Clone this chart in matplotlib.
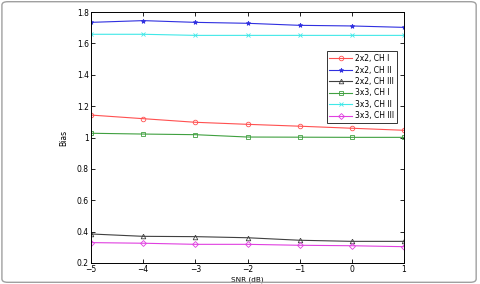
import matplotlib
matplotlib.use('Agg')
import matplotlib.pyplot as plt
from matplotlib.patches import FancyBboxPatch
from matplotlib.ticker import FuncFormatter

snr = [-5, -4, -3, -2, -1, 0, 1]

bias_2x2_ch1 = [1.143, 1.120, 1.097, 1.084, 1.072, 1.059, 1.046]
bias_2x2_ch2 = [1.734, 1.745, 1.734, 1.728, 1.715, 1.711, 1.702]
bias_2x2_ch3 = [0.385, 0.370, 0.368, 0.361, 0.345, 0.338, 0.338]
bias_3x3_ch1 = [1.027, 1.022, 1.018, 1.003, 1.002, 1.001, 1.001]
bias_3x3_ch2 = [1.658, 1.658, 1.651, 1.651, 1.651, 1.651, 1.651]
bias_3x3_ch3 = [0.330, 0.326, 0.319, 0.319, 0.313, 0.310, 0.304]

labels = ['2x2, CH I', '2x2, CH II', '2x2, CH III',
          '3x3, CH I', '3x3, CH II', '3x3, CH III']

fig = plt.figure(figsize=(4.8, 2.84), dpi=100)
ax = fig.add_axes([91 / 480, 1 - 263 / 284, (404 - 91) / 480, (263 - 12) / 284])

# rounded grey frame around the whole picture
fig.patches.append(FancyBboxPatch((0.004, 0.006), 0.988, 0.988,
                                  boxstyle='round,pad=0,rounding_size=0.012',
                                  transform=fig.transFigure, fill=False,
                                  edgecolor='#a0a0a0', linewidth=1.0))

kw = dict(linewidth=0.8, markersize=3.3, markeredgewidth=0.6)
ax.plot(snr, bias_2x2_ch1, '-o', color='#ff5050', mfc='none', label=labels[0], **kw)
ax.plot(snr, bias_2x2_ch2, '-*', color='#3030e0', label=labels[1], **kw)
ax.plot(snr, bias_2x2_ch3, '-^', color='#404040', mfc='none', label=labels[2], **kw)
ax.plot(snr, bias_3x3_ch1, '-s', color='#40a040', mfc='none', label=labels[3], **kw)
ax.plot(snr, bias_3x3_ch2, '-x', color='#40e8e8', label=labels[4], **kw)
ax.plot(snr, bias_3x3_ch3, '-D', color='#e040e0', mfc='none', label=labels[5],
        linewidth=0.8, markersize=3.0, markeredgewidth=0.6)

ax.set_xlim(-5, 1)
ax.set_ylim(0.2, 1.8)
ax.set_xticks(snr)
ax.set_xticklabels(['\u22125', '\u22124', '\u22123', '\u22122', '\u22121', '0', '1'])
ax.set_yticks([0.2, 0.4, 0.6, 0.8, 1.0, 1.2, 1.4, 1.6, 1.8])
ax.yaxis.set_major_formatter(FuncFormatter(lambda v, p: ('%g' % round(v, 1))))
ax.tick_params(direction='in', top=True, right=True, labelsize=5.5,
               length=3, width=0.6, pad=1.5)
for s in ax.spines.values():
    s.set_linewidth(0.7)

ax.set_xlabel('SNR (dB)', fontsize=5.2)
ax.xaxis.set_label_coords(0.5, -0.052)
ax.set_ylabel('Bias', fontsize=5.5, labelpad=6)

leg = ax.legend(loc='upper right', bbox_to_anchor=(0.99, 0.858), fontsize=5.5,
                frameon=True, fancybox=False, handlelength=3.0,
                borderpad=0.35, labelspacing=0.32, handletextpad=0.4)
leg.get_frame().set_edgecolor('black')
leg.get_frame().set_linewidth(0.7)

fig.savefig('out.png', dpi=100)
